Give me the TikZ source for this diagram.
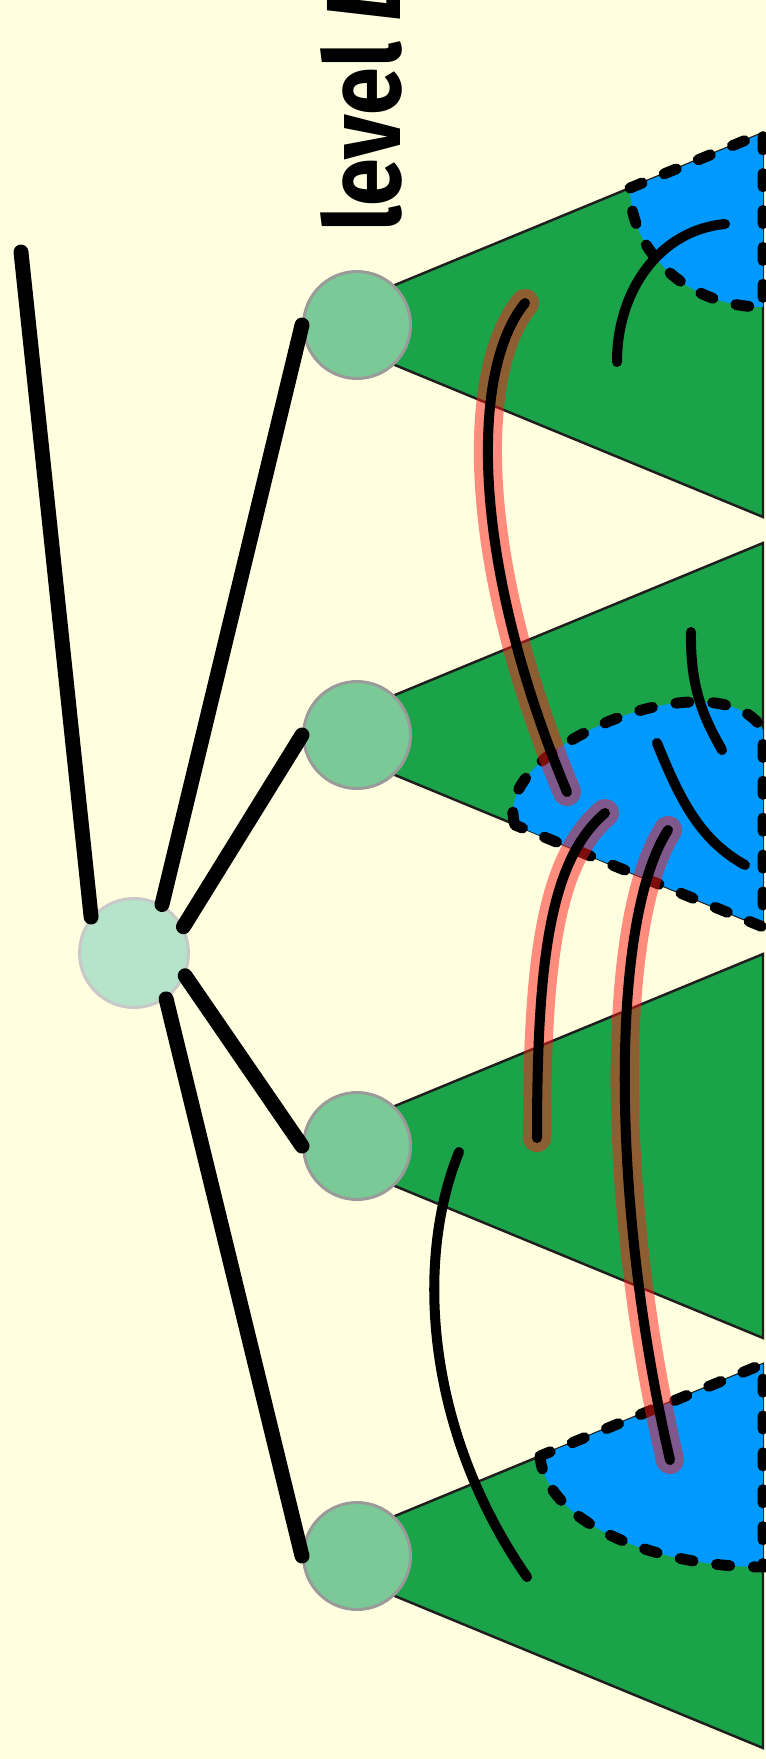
\documentclass[tikz,border=0pt]{standalone}
\usepackage{fontspec}
\usepackage{graphicx}
\newfontfamily\lvlfont{Fira Sans}
\usetikzlibrary{positioning}
\definecolor{ccream}{HTML}{FFFFE0}
\definecolor{cgreen}{HTML}{1BA34A}
\definecolor{cblue}{HTML}{0099FF}
\definecolor{cmint}{HTML}{B5E4CA}
\definecolor{cleaf}{HTML}{7BC996}
\definecolor{cring}{HTML}{9A9A9A}
\definecolor{cpale}{HTML}{C8C8C8}
\definecolor{cdark}{HTML}{1E1E1E}
\definecolor{chigh}{HTML}{FF1A1A}
\tikzset{
  every picture/.style={x=0.02cm, y=-0.02cm},
  subtree/.style={fill=cgreen, draw=cdark, line width=1.4pt},
  hole/.style={fill=cblue, draw=black, line width=6.2pt, dash pattern=on 7.5pt off 13.5pt, line cap=round},
  rootnode/.style={circle, fill=cmint, draw=cpale, line width=1.7pt, minimum size=2.18cm, inner sep=0pt},
  kid/.style={circle, fill=cleaf, draw=cring, line width=1.7pt, minimum size=2.14cm, inner sep=0pt},
  link/.style={draw=black, line width=8.5pt, line cap=round},
  trail/.style={draw=black, line width=5.7pt, line cap=round},
  glowtrail/.style={trail, preaction={draw=chigh, draw opacity=0.5, line width=16pt, line cap=round}},
}

\begin{document}
\begin{tikzpicture}
  \useasboundingbox (0,0) rectangle (766,1759);
  \fill[ccream] (0,0) rectangle (766,1759);
  % subtrees below level L
  \foreach \c in {325,735,1146,1556}
    \draw[subtree] (298,\c) -- (763,\c-192) -- (763,\c+192) -- cycle;
  % marked parts
  \draw[hole] (630,188) -- (763,133) -- (763,307) .. controls (689,307) and (630,253) .. (630,188) -- cycle;
  \draw[hole] (515,825) .. controls (505,795) and (530,760) .. (590,730)
    .. controls (660,695) and (740,690) .. (763,730) -- (763,927) -- cycle;
  \draw[hole] (540,1456) .. controls (545,1520) and (650,1567) .. (763,1567) -- (763,1364) -- cycle;
  % tree
  \node[rootnode] (root) at (134,953) {};
  \foreach \i/\c in {1/325,2/735,3/1146,4/1556}
    \node[kid] (c\i) at (357,\c) {};
  \coordinate (par) at (21,252);
  \draw[link] (par) -- (root.140);
  \draw[link] (root.60) -- (c1.west);
  \draw[link] (root.28) -- (c2.west);
  \draw[link] (root.-24) -- (c3.west);
  \draw[link] (root.-55) -- (c4.west);
  \node[rotate=90, anchor=base west, inner sep=0pt, font=\lvlfont\bfseries\fontsize{60}{64}\selectfont] (lvl) at (400,232) {\scalebox{0.82}[1]{level \textit{L}}};
  % paths
  \draw[trail] (617,362) .. controls (617,290) and (660,230) .. (725,224);
  \draw[glowtrail] (525,303) .. controls (470,370) and (470,560) .. (567,792);
  \draw[trail] (691,632) .. controls (690,690) and (705,720) .. (722,750);
  \draw[trail] (657,743) .. controls (680,800) and (700,840) .. (745,865);
  \draw[glowtrail] (605,813) .. controls (550,860) and (537,960) .. (537,1138);
  \draw[glowtrail] (668,830) .. controls (610,920) and (610,1200) .. (670,1460);
  \draw[trail] (459,1152) .. controls (415,1260) and (425,1430) .. (527,1577);
\end{tikzpicture}
\end{document}
